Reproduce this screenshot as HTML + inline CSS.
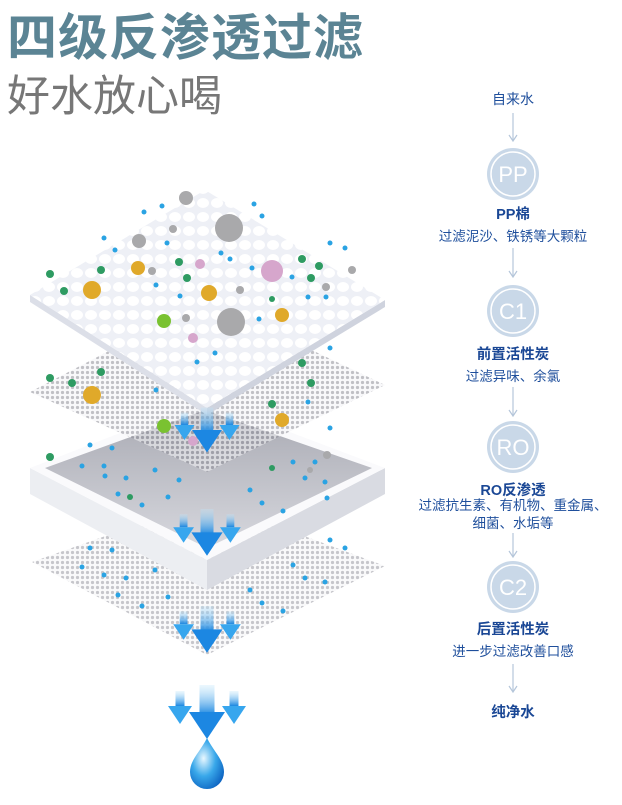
<!DOCTYPE html>
<html><head><meta charset="utf-8"><style>
body{margin:0;width:622px;height:805px;background:#fff;overflow:hidden;position:relative;font-family:"Liberation Sans","Noto Sans CJK SC",sans-serif}
.t1{position:absolute;left:7px;top:-2px;font-size:50px;font-weight:bold;color:#5b8494;letter-spacing:1px;white-space:nowrap}
.t2{position:absolute;left:7px;top:62px;font-size:43px;color:#777;letter-spacing:0px;white-space:nowrap}
.r{position:absolute;left:403px;width:220px;text-align:center;color:#1f4f9c}
.b{font-weight:bold;font-size:14.5px;color:#1a4795}
.d{font-size:13.5px}
</style></head><body>
<div class="t1">四级反渗透过滤</div>
<div class="t2">好水放心喝</div>
<svg width="622" height="805" style="position:absolute;left:0;top:0">
<defs>
<pattern id="m" width="5" height="5" patternUnits="userSpaceOnUse"><rect width="5" height="5" fill="#f3f3f5"/><circle cx="2.5" cy="2.5" r="1.6" fill="#8c8c96"/></pattern>
<pattern id="w" width="14" height="14" patternUnits="userSpaceOnUse"><rect width="14" height="14" fill="#eef0f6"/><ellipse cx="7" cy="7" rx="6" ry="5" fill="#fff"/></pattern>
<linearGradient id="ar" x1="0" y1="0" x2="0" y2="1"><stop offset="0" stop-color="#bfe6fb" stop-opacity=".3"/><stop offset="1" stop-color="#1a86e0"/></linearGradient>
<radialGradient id="dr" cx=".4" cy=".4" r=".7"><stop offset="0" stop-color="#e9f8ff"/><stop offset=".5" stop-color="#39a8ea"/><stop offset="1" stop-color="#0a5fbf"/></radialGradient>
<linearGradient id="bx" x1="0" y1="0" x2="0" y2="1"><stop offset="0" stop-color="#a9aab3"/><stop offset="1" stop-color="#d7d8de"/></linearGradient>
<g id="arr"><rect x="-5" y="-30" width="10" height="20" fill="url(#ar)"/><polygon points="-12,-12 12,-12 0,6" fill="#1c87e2"/><rect x="-3" y="-26" width="6" height="10" fill="url(#ar)" transform="translate(-18,0)"/><polygon points="-26,-16 -10,-16 -18,-4" fill="#37a6ee"/><rect x="15" y="-26" width="6" height="10" fill="url(#ar)"/><polygon points="10,-16 26,-16 18,-4" fill="#37a6ee"/></g>
</defs>
<polygon points="207,500 385,566 207,655 32,562" fill="url(#m)" opacity=".5"/>
<polygon points="30,468 207,560 207,590 30,494" fill="#eceef2"/>
<polygon points="385,468 207,560 207,590 385,494" fill="#d9dbe2"/>
<polygon points="30,468 205,400 385,468 207,560" fill="#fafafc"/>
<polygon points="45,468 205,410 372,468 207,548" fill="url(#bx)"/>
<polygon points="207,300 385,385 207,472 30,392" fill="url(#m)" opacity=".55"/>
<polygon points="30,295 207,408 207,415 30,302" fill="#dcdfe8"/>
<polygon points="385,300 207,408 207,415 385,307" fill="#cfd3de"/>
<polygon points="205,190 385,300 207,408 30,295" fill="url(#w)"/>
<g transform="translate(207,445) scale(1.25)"><use href="#arr"/></g>
<g transform="translate(207,548) scale(1.3)"><use href="#arr"/></g>
<g transform="translate(207,645) scale(1.3)"><use href="#arr"/></g>
<g transform="translate(207,730) scale(1.5)"><use href="#arr"/></g>
<path d="M207,738 C200,752 190,760 190,772 A17,17 0 0 0 224,772 C224,760 214,752 207,738Z" fill="url(#dr)"/>
<g fill="#a9a9ab"><circle cx="186" cy="198" r="7"/><circle cx="229" cy="228" r="14"/><circle cx="139" cy="241" r="7"/><circle cx="231" cy="322" r="14"/><circle cx="173" cy="229" r="4"/><circle cx="152" cy="271" r="4"/><circle cx="240" cy="290" r="4"/><circle cx="186" cy="318" r="4"/><circle cx="352" cy="270" r="4"/><circle cx="326" cy="287" r="4"/><circle cx="327" cy="455" r="4"/><circle cx="310" cy="470" r="3"/></g>
<g fill="#e0a92a"><circle cx="138" cy="268" r="7"/><circle cx="92" cy="290" r="9"/><circle cx="209" cy="293" r="8"/><circle cx="282" cy="315" r="7"/><circle cx="92" cy="395" r="9"/><circle cx="282" cy="420" r="7"/></g>
<g fill="#d6a6cc"><circle cx="272" cy="271" r="11"/><circle cx="200" cy="264" r="5"/><circle cx="193" cy="338" r="5"/><circle cx="193" cy="441" r="5"/></g>
<g fill="#7ac231"><circle cx="164" cy="321" r="7"/><circle cx="164" cy="426" r="7"/></g>
<g fill="#2e9b62"><circle cx="50" cy="274" r="4"/><circle cx="64" cy="291" r="4"/><circle cx="101" cy="270" r="4"/><circle cx="179" cy="262" r="4"/><circle cx="187" cy="278" r="4"/><circle cx="302" cy="259" r="4"/><circle cx="319" cy="266" r="4"/><circle cx="311" cy="278" r="4"/><circle cx="272" cy="299" r="3"/><circle cx="50" cy="378" r="4"/><circle cx="72" cy="383" r="4"/><circle cx="101" cy="372" r="4"/><circle cx="302" cy="363" r="4"/><circle cx="311" cy="383" r="4"/><circle cx="272" cy="404" r="4"/><circle cx="50" cy="457" r="4"/><circle cx="130" cy="497" r="3"/><circle cx="272" cy="468" r="3"/></g>
<g fill="#2aa3e3">
<circle cx="144" cy="212" r="2.5"/><circle cx="162" cy="206" r="2.5"/><circle cx="254" cy="204" r="2.5"/><circle cx="262" cy="216" r="2.5"/><circle cx="104" cy="238" r="2.5"/><circle cx="115" cy="250" r="2.5"/><circle cx="167" cy="243" r="2.5"/><circle cx="221" cy="253" r="2.5"/><circle cx="230" cy="259" r="2.5"/><circle cx="252" cy="268" r="2.5"/><circle cx="330" cy="243" r="2.5"/><circle cx="345" cy="248" r="2.5"/><circle cx="292" cy="277" r="2.5"/><circle cx="156" cy="285" r="2.5"/><circle cx="180" cy="296" r="2.5"/><circle cx="308" cy="297" r="2.5"/><circle cx="326" cy="297" r="2.5"/><circle cx="259" cy="319" r="2.5"/><circle cx="215" cy="353" r="2.5"/><circle cx="197" cy="362" r="2.5"/><circle cx="330" cy="348" r="2.5"/><circle cx="156" cy="390" r="2.5"/><circle cx="308" cy="402" r="2.5"/><circle cx="330" cy="428" r="2.5"/><circle cx="90" cy="445" r="2.5"/><circle cx="112" cy="448" r="2.5"/><circle cx="82" cy="466" r="2.5"/><circle cx="104" cy="466" r="2.5"/><circle cx="105" cy="476" r="2.5"/><circle cx="126" cy="478" r="2.5"/><circle cx="155" cy="470" r="2.5"/><circle cx="179" cy="480" r="2.5"/><circle cx="118" cy="494" r="2.5"/><circle cx="168" cy="497" r="2.5"/><circle cx="142" cy="505" r="2.5"/><circle cx="293" cy="462" r="2.5"/><circle cx="315" cy="462" r="2.5"/><circle cx="305" cy="478" r="2.5"/><circle cx="325" cy="482" r="2.5"/><circle cx="250" cy="490" r="2.5"/><circle cx="262" cy="503" r="2.5"/><circle cx="283" cy="511" r="2.5"/><circle cx="327" cy="498" r="2.5"/><circle cx="90" cy="548" r="2.5"/><circle cx="112" cy="550" r="2.5"/><circle cx="82" cy="567" r="2.5"/><circle cx="104" cy="575" r="2.5"/><circle cx="126" cy="578" r="2.5"/><circle cx="155" cy="570" r="2.5"/><circle cx="118" cy="595" r="2.5"/><circle cx="168" cy="597" r="2.5"/><circle cx="142" cy="606" r="2.5"/><circle cx="293" cy="565" r="2.5"/><circle cx="305" cy="578" r="2.5"/><circle cx="325" cy="582" r="2.5"/><circle cx="250" cy="590" r="2.5"/><circle cx="262" cy="603" r="2.5"/><circle cx="283" cy="611" r="2.5"/><circle cx="330" cy="540" r="2.5"/><circle cx="345" cy="548" r="2.5"/>
</g>
<g stroke="#b5c6da" stroke-width="1.2" fill="none">
<line x1="513" y1="113" x2="513" y2="140"/><polyline points="509,135 513,141 517,135"/>
<line x1="513" y1="248" x2="513" y2="276"/><polyline points="509,271 513,277 517,271"/>
<line x1="513" y1="387" x2="513" y2="415"/><polyline points="509,410 513,416 517,410"/>
<line x1="513" y1="533" x2="513" y2="556"/><polyline points="509,551 513,557 517,551"/>
<line x1="513" y1="664" x2="513" y2="691"/><polyline points="509,686 513,692 517,686"/>
</g>
<g fill="#c9d8e8">
<circle cx="513" cy="174" r="26"/><circle cx="513" cy="311" r="26"/><circle cx="513" cy="447" r="26"/><circle cx="513" cy="587" r="26"/>
</g>
<g fill="none" stroke="#fff" stroke-width="1.5">
<circle cx="513" cy="174" r="22"/><circle cx="513" cy="311" r="22"/><circle cx="513" cy="447" r="22"/><circle cx="513" cy="587" r="22"/>
</g>
<g fill="#fff" font-family="Liberation Sans, sans-serif" font-size="22" text-anchor="middle">
<text x="513" y="182">PP</text><text x="513" y="319">C1</text><text x="513" y="455">RO</text><text x="513" y="595">C2</text>
</g>
</svg>
<div class="r d" style="top:89px;font-size:14px">自来水</div>
<div class="r b" style="top:203px">PP棉</div>
<div class="r d" style="top:225px">过滤泥沙、铁锈等大颗粒</div>
<div class="r b" style="top:343px">前置活性炭</div>
<div class="r d" style="top:365px">过滤异味、余氯</div>
<div class="r b" style="top:479px">RO反渗透</div>
<div class="r d" style="top:497px;line-height:18px">过滤抗生素、有机物、重金属、<br>细菌、水垢等</div>
<div class="r b" style="top:618px">后置活性炭</div>
<div class="r d" style="top:640px">进一步过滤改善口感</div>
<div class="r b" style="top:701px">纯净水</div>
</body></html>
